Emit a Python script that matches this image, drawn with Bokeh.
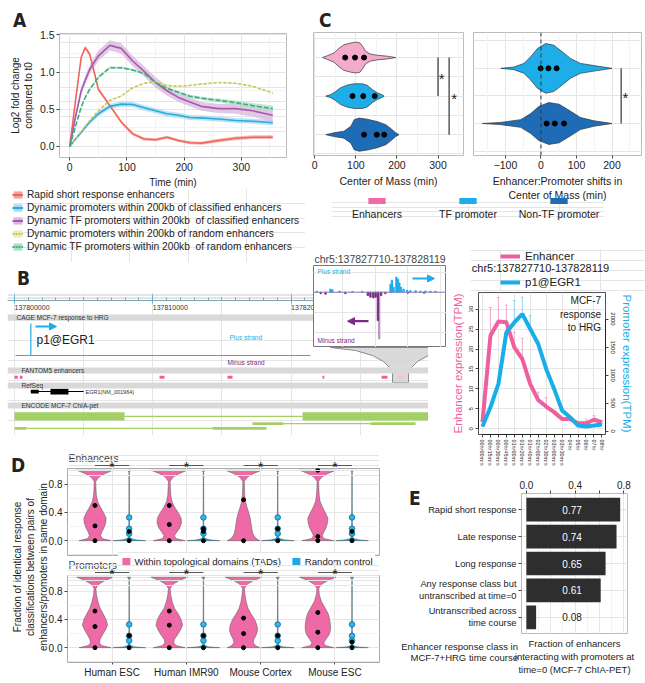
import numpy as np
from bokeh.plotting import figure
from bokeh.models import (Range1d, LinearAxis, FixedTicker, Legend, LegendItem, Div, Arrow,
                          NormalHead, Label, BoxAnnotation, Span, Grid, FactorRange)
from bokeh.embed import file_html
from bokeh.resources import INLINE
from bokeh.core.properties import value

FONT = "Liberation Sans"
TXT = "#222222"

# ===================== DATA =====================
# ---- Panel A: log2 fold change over time ----
a_time = [0, 10, 20, 27, 35, 50, 70, 90, 110, 130, 150, 170, 190, 210, 230, 260, 290, 320, 355]
a_rapid = [0, 0.62, 1.2, 1.33, 1.24, 0.77, 0.55, 0.33, 0.17, 0.10, 0.09, 0.125, 0.08, 0.05, 0.045, 0.08, 0.11, 0.125, 0.125]
a_rapid_se = [0.01, 0.02, 0.025, 0.025, 0.025, 0.025, 0.02, 0.02, 0.02, 0.02, 0.02, 0.02, 0.02, 0.02, 0.02, 0.025, 0.025, 0.025, 0.025]
a_prom = [0, 0.1, 0.19, 0.26, 0.33, 0.44, 0.54, 0.57, 0.565, 0.52, 0.48, 0.44, 0.42, 0.39, 0.385, 0.37, 0.35, 0.34, 0.32]
a_prom_se = [0.01, 0.02, 0.025, 0.03, 0.03, 0.035, 0.035, 0.035, 0.035, 0.035, 0.035, 0.035, 0.035, 0.035, 0.035, 0.035, 0.035, 0.035, 0.035]
a_tf = [0, 0.4, 0.75, 0.89, 1.04, 1.22, 1.36, 1.32, 1.15, 1.01, 0.86, 0.75, 0.66, 0.6, 0.54, 0.51, 0.51, 0.48, 0.42]
a_tf_se = [0.01, 0.04, 0.05, 0.06, 0.06, 0.07, 0.07, 0.07, 0.07, 0.07, 0.07, 0.065, 0.06, 0.06, 0.06, 0.06, 0.07, 0.08, 0.09]
a_rnd_prom = [0, 0.1, 0.2, 0.27, 0.35, 0.48, 0.62, 0.68, 0.79, 0.85, 0.87, 0.82, 0.81, 0.82, 0.84, 0.86, 0.85, 0.81, 0.72]
a_rnd_prom_se = [0.005, 0.008, 0.01, 0.01, 0.01, 0.01, 0.01, 0.01, 0.01, 0.01, 0.01, 0.01, 0.01, 0.01, 0.01, 0.01, 0.01, 0.01, 0.01]
a_rnd_tf = [0, 0.27, 0.53, 0.66, 0.77, 0.93, 1.06, 1.06, 1.03, 0.98, 0.86, 0.78, 0.73, 0.675, 0.65, 0.62, 0.59, 0.55, 0.51]
a_rnd_tf_se = [0.005, 0.01, 0.015, 0.015, 0.015, 0.015, 0.015, 0.015, 0.015, 0.015, 0.015, 0.02, 0.02, 0.02, 0.02, 0.025, 0.03, 0.035, 0.04]
a_labels = ["Rapid short response enhancers",
            "Dynamic promoters within 200kb of classified enhancers",
            "Dynamic TF promoters within 200kb  of classified enhancers",
            "Dynamic promoters within 200kb of random enhancers",
            "Dynamic TF promoters within 200kb  of random enhancers"]

# ---- Panel C: centre of mass violins ----
c_groups = ["Enhancers", "TF promoter", "Non-TF promoter"]
c_enh_x = [19, 31, 47, 59, 71, 88, 100, 110, 116, 124, 136, 152, 177, 197]
c_enh_w = [0, .05, .12, .24, .33, .38, .40, .38, .30, .16, .09, .06, .035, 0]
c_tf_x = [27, 39, 51, 63, 80, 96, 116, 128, 140, 152, 165, 169]
c_tf_w = [0, .04, .12, .22, .29, .32, .32, .28, .17, .09, .03, 0]
c_ntf_x = [27, 47, 71, 88, 96, 108, 128, 152, 173, 185, 197, 205]
c_ntf_w = [0, .05, .09, .22, .39, .43, .40, .34, .26, .16, .05, 0]
c_enh_q = [74, 98, 120]
c_tf_q = [92, 118, 146]
c_ntf_q = [120, 151, 169]
c2_tf_x = [-113, -76, -48, -29, -10, 13, 36, 60, 83, 111, 149, 200]
c2_tf_w = [0, .024, .09, .21, .36, .45, .42, .30, .18, .09, .05, 0]
c2_ntf_x = [-165, -113, -57, -29, -6, 22, 51, 79, 111, 149, 200]
c2_ntf_w = [0, .02, .07, .18, .31, .38, .35, .24, .11, .05, 0]
c2_tf_q = [-1, 21, 44]
c2_ntf_q = [16, 39, 65]

# ---- Panel B: genome tracks (chr5, hg19) ----
ruler_ticks = [137800000, 137810000, 137820000]
fantom_start = [137800000, 137800385, 137810485, 137815400, 137822270, 137826540, 137827710]
fantom_end = [137800240, 137800580, 137810846, 137815763, 137822400, 137826970, 137828119]
egr1_tx = [137801181, 137805004]
egr1_exon_start = [137801181, 137802600]
egr1_exon_end = [137801750, 137803900]
egr1_cage_peak = 137801181
chia_a_start = [137800000, 137817209, 137800000]
chia_a_end = [137807954, 137819451, 137800868]
chia_b_start = [137820824, 137825741, 137814317]
chia_b_end = [137829935, 137828995, 137818221]
# inset CAGE signal around the enhancer
ins_plus_pos = [137827720, 137827762, 137827768, 137827790, 137827830, 137827860, 137827947, 137827951,
                137827956, 137827965, 137827970, 137827974, 137827979, 137827987, 137827998, 137828008,
                137828024, 137828039, 137828054, 137828070, 137828085]
ins_plus_val = [1, 3, 2.5, 1.2, 0.8, 1, 8, 12, 5, 15, 13, 9, 5, 3, 2, 1.5, 1.5, 1, 1.2, 1, 1]
ins_minus_pos = [137827732, 137827747, 137827808, 137827877, 137827885, 137827894, 137827901,
                 137827908, 137827918, 137827931, 137828000, 137828050]
ins_minus_val = [1.5, 2, 1.5, 3.3, 5, 5.7, 5, 28.3, 3.3, 1.5, 1, 1]
ins_minus_rep_pos = [137827912]
ins_minus_rep_val = [46.7]

# ---- Panel B right: time course ----
b_times = ["00hr00min", "00hr15min", "00hr30min", "00hr45min", "01hr00min", "01hr20min", "01hr40min",
           "02hr00min", "02hr30min", "03hr00min", "03hr30min", "04hr", "05hr", "06hr", "07hr", "08hr"]
enh_tpm = [1.7, 23.3, 26.9, 26.7, 20.4, 17.5, 11.2, 7.2, 5.6, 4.2, 2.5, 2.5, 1.4, 1.4, 2.3, 1.7]
enh_err = [1.9, 30.4, 32.9, 31.0, 24.2, 22.7, 12.1, 9.2, 7.9, 4.6, 2.7, 2.6, 1.6, 2.4, 3.3, 1.9]
prom_tpm = [84, 427, 843, 1762, 1940, 2089, 1822, 1555, 1110, 754, 368, 249, 101, 84, 101, 119]
prom_err = [95, 460, 900, 1970, 2330, 2390, 2060, 1600, 1170, 813, 400, 260, 115, 100, 115, 135]

# ---- Panel D: violins ----
d_groups = ["Human ESC", "Human IMR90", "Mouse Cortex", "Mouse ESC"]
d_tad_y = [0.0, 0.03, 0.07, 0.12, 0.18, 0.25, 0.32, 0.4, 0.48, 0.56, 0.65, 0.75, 0.84, 0.9, 0.95, 1.0]
d_enh_tad_w = [
    [0.215, 0.10, 0.075, 0.09, 0.12, 0.145, 0.15, 0.115, 0.07, 0.035, 0.018, 0.013, 0.01, 0.05, 0.13, 0.245],
    [0.215, 0.09, 0.07, 0.10, 0.14, 0.165, 0.16, 0.12, 0.07, 0.035, 0.02, 0.015, 0.012, 0.05, 0.13, 0.245],
    [0.22, 0.17, 0.14, 0.12, 0.11, 0.10, 0.09, 0.07, 0.045, 0.025, 0.015, 0.012, 0.01, 0.05, 0.13, 0.245],
    [0.215, 0.08, 0.06, 0.08, 0.11, 0.13, 0.135, 0.10, 0.06, 0.03, 0.018, 0.013, 0.01, 0.05, 0.13, 0.245]]
d_prom_tad_w = [
    [0.215, 0.09, 0.06, 0.07, 0.10, 0.14, 0.17, 0.15, 0.11, 0.07, 0.04, 0.02, 0.012, 0.05, 0.13, 0.245],
    [0.215, 0.09, 0.06, 0.07, 0.11, 0.15, 0.18, 0.16, 0.12, 0.07, 0.04, 0.02, 0.012, 0.05, 0.13, 0.245],
    [0.22, 0.16, 0.13, 0.14, 0.17, 0.19, 0.18, 0.15, 0.10, 0.06, 0.035, 0.02, 0.012, 0.05, 0.13, 0.245],
    [0.215, 0.10, 0.08, 0.11, 0.15, 0.17, 0.17, 0.16, 0.14, 0.10, 0.05, 0.02, 0.012, 0.05, 0.13, 0.245]]
d_rnd_y = [0.0, 0.012, 0.03, 0.06, 0.09, 0.1, 0.11, 0.15, 0.17, 0.19, 0.3, 0.33, 0.36, 0.6, 0.97, 1.0]
d_enh_rnd_w = [0.22, 0.09, 0.025, 0.006, 0.006, 0.012, 0.006, 0.006, 0.012, 0.005, 0.004, 0.01, 0.004, 0.003, 0.003, 0.022]
d_prom_rnd_w = [0.22, 0.07, 0.02, 0.006, 0.006, 0.012, 0.006, 0.006, 0.014, 0.005, 0.004, 0.01, 0.004, 0.003, 0.003, 0.022]
d_enh_tad_q = [[0, 0.21, 0.5], [0, 0.23, 0.5], [0, 0.58], [0, 0.06, 1.0]]
d_enh_rnd_q = [[0, 0.13], [0, 0.13, 0.17], [0, 0.17], [0, 0.13]]
d_prom_tad_q = [[0, 0.3, 0.52], [0, 0.32, 0.52], [0, 0.2, 0.42], [0, 0.22, 0.5]]
d_prom_rnd_q = [[0, 0.17], [0, 0.17], [0, 0.17], [0, 0.08]]
d_rnd_points = [0.1, 0.17, 0.33]

# ---- Panel E ----
e_classes = ["Rapid short response", "Late response", "Long response",
             "Any response class but\nuntranscribed at time=0", "Untranscribed across\ntime course"]
e_values = [0.77, 0.74, 0.65, 0.61, 0.08]

# ===================== COLOURS =====================
PINK = "#EE6AA7"
LBLUE = "#1DAEEA"
DBLUE = "#1D6CB5"
PURPLE = "#7B2A85"
A_COL = ["#F0665A", "#2AA8E0", "#A55AAE", "#C8C45A", "#3BB07A"]
A_BAND = ["#F5A29B", "#A6D9F1", "#D9B6DE", "#ECECB8", "#AEDFC6"]

# ===================== HELPERS =====================
def mkfig(fx, fy, fw, fh, mbl, mbr, mbt, mbb, xr, yr, title=None, bg="white"):
    p = figure(frame_width=fw, frame_height=fh, x_range=xr, y_range=yr,
               min_border_left=mbl, min_border_right=mbr, min_border_top=mbt,
               min_border_bottom=mbb, x_axis_location=None, y_axis_location=None,
               output_backend="svg", toolbar_location=None, title=title)
    p.border_fill_color = None
    p.background_fill_color = bg
    p.outline_line_color = None
    p.styles = {"position": "absolute", "left": f"{fx - mbl}px", "top": f"{fy - mbt}px"}
    return p


def add_axis(p, place, ticks, overrides=None, label=None, size="10px", label_size="10px",
             y_range_name=None, bounds=None, orient=None, line=None, tick_out=3, color=TXT,
             label_color=None, minor=None):
    ax = LinearAxis(ticker=FixedTicker(ticks=ticks, minor_ticks=minor or []))
    if y_range_name:
        ax.y_range_name = y_range_name
    if overrides:
        ax.major_label_overrides = overrides
    if label is not None:
        ax.axis_label = label
    ax.major_label_text_font = FONT
    ax.major_label_text_font_size = size
    ax.major_label_text_color = color
    ax.axis_label_text_font = FONT
    ax.axis_label_text_font_size = label_size
    ax.axis_label_text_font_style = "normal"
    ax.axis_label_text_color = label_color or TXT
    ax.axis_line_color = line
    ax.major_tick_line_color = "#444444"
    ax.major_tick_out = tick_out
    ax.major_tick_in = 0
    ax.minor_tick_line_color = None
    ax.major_label_standoff = 2
    ax.axis_label_standoff = 3
    if bounds:
        ax.bounds = bounds
    if orient is not None:
        ax.major_label_orientation = orient
    p.add_layout(ax, place)
    return ax


def add_grid(p, dim, ticks, minor=None, color="#E6E6E6", minor_color="#F3F3F3"):
    g = Grid(dimension=dim, ticker=FixedTicker(ticks=ticks, minor_ticks=minor or []))
    g.grid_line_color = color
    if minor:
        g.minor_grid_line_color = minor_color
    p.add_layout(g)


def add_label(p, x, y, text, size="10px", color=TXT, align="left", baseline="middle", angle=0):
    p.add_layout(Label(x=x, y=y, text=text, text_font=FONT, text_font_size=size, text_color=color,
                       text_align=align, text_baseline=baseline, angle=angle))


def style_legend(lg, size="10.2px"):
    lg.label_text_font = FONT
    lg.label_text_font_size = size
    lg.label_text_color = TXT
    lg.background_fill_alpha = 0
    lg.border_line_color = None
    lg.padding = 0
    lg.margin = 0
    lg.spacing = 1
    lg.label_standoff = 4
    lg.glyph_width = 11
    lg.glyph_height = 9
    lg.label_height = 12
    lg.inactive_fill_alpha = 0


def mkdiv(html, x, y, w, h, size="10px", bold=False, align="left", family=None, extra=None):
    st = {"position": "absolute", "left": f"{x}px", "top": f"{y}px",
          "font-family": family or FONT, "font-size": size, "color": TXT,
          "text-align": align, "line-height": "1.15", "font-weight": "bold" if bold else "normal"}
    if extra:
        st.update(extra)
    return Div(text=html, width=w, height=h, styles=st)


def violin_patch(pos, center, half, vertical=True):
    pos = list(pos)
    half = list(half)
    up = [center + h for h in half]
    lo = [center - h for h in half[::-1]]
    along = pos + pos[::-1]
    across = up + lo
    return (across, along) if vertical else (along, across)


roots = []

# ===================== PANEL A =====================
pA = mkfig(59, 33, 227, 124, 55, 8, 5, 40, Range1d(-18, 379), Range1d(-0.148, 1.52))
pA.outline_line_color = "#BBBBBB"
add_grid(pA, 0, [0, 100, 200, 300], minor=[50, 150, 250, 350])
add_grid(pA, 1, [0, 0.5, 1.0, 1.5], minor=[0.25, 0.75, 1.25])
series = [(a_rapid, a_rapid_se, None), (a_prom, a_prom_se, None), (a_tf, a_tf_se, None),
          (a_rnd_prom, a_rnd_prom_se, "3 2"), (a_rnd_tf, a_rnd_tf_se, "5 2")]
bands = []
for i, (vals, se, dash) in enumerate(series):
    lo = [v - s for v, s in zip(vals, se)]
    hi = [v + s for v, s in zip(vals, se)]
    bands.append((lo, hi))
    pA.varea(x=a_time, y1=lo, y2=hi, fill_color=A_BAND[i], fill_alpha=0.75)
for i, (vals, se, dash) in enumerate(series):
    kw = {"line_dash": dash} if dash else {}
    pA.line(x=a_time, y=vals, line_color=A_COL[i], line_width=1.6, **kw)
add_axis(pA, "below", [0, 100, 200, 300], label="Time (min)", size="10.5px")
add_axis(pA, "left", [0, 0.5, 1.0, 1.5], overrides={0: "0.0", 0.5: "0.5", 1.0: "1.0", 1.5: "1.5"},
         label="Log2 fold change\ncompared to t0", size="10.5px")
roots.append(pA)

# legend of A (legend proxies carry the same series but are hidden)
pAl = mkfig(12, 188, 293, 74, 0, 0, 0, 0, Range1d(0, 1), Range1d(0, 1), bg=None)
items = []
for i, (vals, se, dash) in enumerate(series):
    r1 = pAl.varea(x=a_time, y1=bands[i][0], y2=bands[i][1], fill_color=A_BAND[i], fill_alpha=1.0, visible=False)
    kw = {"line_dash": "2 1"} if dash else {}
    r2 = pAl.line(x=a_time, y=vals, line_color=A_COL[i], line_width=2, visible=False, **kw)
    items.append(LegendItem(label=a_labels[i], renderers=[r1, r2]))
lgA = Legend(items=items, location="top_left")
style_legend(lgA)
pAl.add_layout(lgA)
roots.append(pAl)

# ===================== PANEL C =====================
pC1 = mkfig(313, 32, 150, 123, 5, 5, 4, 40, Range1d(-3, 362), Range1d(0.46, 3.65))
pC1.outline_line_color = "#BBBBBB"
add_grid(pC1, 0, [0, 100, 200, 300], minor=[50, 150, 250, 350])
add_grid(pC1, 1, [1, 2, 3])
c1_specs = [(c_enh_x, c_enh_w, 3, "#F4AACB", c_enh_q), (c_tf_x, c_tf_w, 2, LBLUE, c_tf_q),
            (c_ntf_x, c_ntf_w, 1, DBLUE, c_ntf_q)]
for xs, ws, cy, col, q in c1_specs:
    px_, py_ = violin_patch(xs, cy, ws, vertical=False)
    pC1.patch(x=px_, y=py_, fill_color=col, line_color="#333333", line_width=0.7)
    pC1.scatter(x=q, y=[cy] * len(q), size=5, color="black")
pC1.segment(x0=[300, 327], y0=[3, 3], x1=[300, 327], y1=[2, 1], line_color="#333333", line_width=1.2)
pC1.text(x=[309, 339], y=[2.45, 1.95], text=["*", "*"], text_font=value(FONT), text_font_size="15px",
         text_align="center", text_baseline="middle", text_color=TXT)
add_axis(pC1, "below", [0, 100, 200, 300], label="Center of Mass (min)", size="10.5px", label_size="10.5px")
roots.append(pC1)

pC2 = mkfig(473, 32, 168, 123, 5, 4, 4, 55, Range1d(-190, 283), Range1d(0.42, 2.65))
pC2.outline_line_color = "#BBBBBB"
add_grid(pC2, 0, [-100, 0, 100, 200], minor=[-150, -50, 50, 150, 250])
add_grid(pC2, 1, [1, 2])
pC2.add_layout(Span(location=0, dimension="height", line_color="#333333", line_dash="4 3", line_width=1))
c2_specs = [(c2_tf_x, c2_tf_w, 2, LBLUE, c2_tf_q), (c2_ntf_x, c2_ntf_w, 1, DBLUE, c2_ntf_q)]
for xs, ws, cy, col, q in c2_specs:
    px_, py_ = violin_patch(xs, cy, ws, vertical=False)
    pC2.patch(x=px_, y=py_, fill_color=col, line_color="#333333", line_width=0.7)
    pC2.scatter(x=q, y=[cy] * len(q), size=5, color="black")
pC2.segment(x0=[225.7], y0=[2], x1=[225.7], y1=[1], line_color="#333333", line_width=1.2)
pC2.text(x=[238], y=[1.47], text=["*"], text_font=value(FONT), text_font_size="15px",
         text_align="center", text_baseline="middle", text_color=TXT)
add_axis(pC2, "below", [-100, 0, 100, 200], label="Enhancer:Promoter shifts in\nCenter of Mass (min)",
         size="10.5px", label_size="10.5px")
roots.append(pC2)

# legend of C
pCl = mkfig(331, 197, 273, 24, 0, 0, 0, 0, FactorRange(factors=c_groups), Range1d(0, 1), bg=None)
pCl.rect(x=c_groups, y=[0.85] * 3, width=0.19, height=6, height_units="screen",
         fill_color=[PINK, LBLUE, DBLUE], line_color=None)
pCl.text(x=c_groups, y=[0.33] * 3, text=c_groups, text_font=value(FONT), text_font_size="10.5px",
         text_align="center", text_baseline="middle", text_color=TXT)
roots.append(pCl)

# ===================== PANEL B (tracks) =====================
G0 = 137800000
PX_KB = 13.83


def gx(px):
    return G0 + (px - 14) / PX_KB * 1000.0


xr_gen = Range1d(gx(7), gx(428))
pT = mkfig(7, 301, 421, 134, 0, 0, 0, 0, xr_gen, Range1d(435, 301), bg=None)
pT.text(x=ruler_ticks, y=[306.5] * 3, text=[str(t) for t in ruler_ticks], text_font=value(FONT),
        text_font_size="7px", text_align="left", text_baseline="middle", text_color="#333333")
for top, bot, txt, tx in [(314, 320, "CAGE MCF-7 response to HRG", 16), (367, 373, "FANTOM5 enhancers", 21),
                          (382, 388, "RefSeq", 21), (402, 408, "ENCODE MCF-7 ChIA-pet", 21)]:
    pT.add_layout(BoxAnnotation(top=top, bottom=bot, fill_color="#D9D9D9", fill_alpha=1, line_color=None))
    add_label(pT, gx(tx), (top + bot) / 2, txt, size="6.5px", color="#333333")
# CAGE track
pT.segment(x0=[gx(15)], x1=[gx(310)], y0=[355], y1=[355], line_color="#9C7FB5", line_width=1)
pT.segment(x0=[egr1_cage_peak], x1=[egr1_cage_peak], y0=[355], y1=[323], line_color=LBLUE, line_width=1.2)
pT.add_layout(Arrow(end=NormalHead(size=7, fill_color=LBLUE, line_color=LBLUE), x_start=gx(35), y_start=326,
                    x_end=gx(56), y_end=326, line_color=LBLUE, line_width=2.2))
add_label(pT, gx(36), 339, "p1@EGR1", size="12px", color=TXT)
add_label(pT, gx(229), 337, "Plus strand", size="6.5px", color=LBLUE)
add_label(pT, gx(227), 362, "Minus strand", size="6.5px", color=PURPLE)
# funnel from inset
fun_px = [330, 355, 372, 383, 389, 392, 392, 408, 408, 411, 417, 428, 440, 446]
fun_py = [347, 350, 355, 361, 367, 372, 382, 382, 372, 367, 361, 355, 350, 347]
pT.patch(x=[gx(v) for v in fun_px], y=fun_py, fill_color="#D4D4D4", fill_alpha=0.85,
         line_color="#8A8A8A", line_width=1)
# enhancers
enh_cols = ["#EE5FA0"] * (len(fantom_start) - 1) + ["#F6C3D9"]
pT.quad(left=fantom_start, right=fantom_end, top=375.3, bottom=378.3, fill_color=enh_cols, line_color=None)
# gene
pT.segment(x0=[egr1_tx[0]], x1=[egr1_tx[1]], y0=[391], y1=[391], line_color="black", line_width=1)
pT.quad(left=egr1_exon_start, right=egr1_exon_end, top=[389.3, 388.2], bottom=[393.0, 394.0],
        fill_color="black", line_color=None)
add_label(pT, gx(85), 391, "EGR1(NM_001964)", size="5.5px", color="#333333")
# ChIA-PET
row_top = [411.7, 421.8, 426.5]
row_bot = [420.0, 424.6, 429.3]
row_mid = [(a + b) / 2 for a, b in zip(row_top, row_bot)]
GREEN = "#A2D064"
pT.segment(x0=chia_a_end, x1=chia_b_start, y0=row_mid, y1=row_mid, line_color=GREEN, line_width=1.3)
pT.quad(left=chia_a_start, right=chia_a_end, top=row_top, bottom=row_bot, fill_color=GREEN, line_color=None)
pT.quad(left=chia_b_start, right=chia_b_end, top=row_top, bottom=row_bot, fill_color=GREEN, line_color=None)
roots.append(pT)

# ruler (axis line + ticks; labels drawn in the track figure)
pR = mkfig(7, 292, 421, 8, 0, 0, 0, 5, xr_gen, Range1d(0, 1), bg=None)
rax = LinearAxis(ticker=FixedTicker(ticks=ruler_ticks,
                                    minor_ticks=list(range(137800000, 137830001, 1000))))
rax.major_label_overrides = {t: "" for t in ruler_ticks}
rax.axis_line_color = "#7FA3B3"
rax.major_tick_line_color = "#4FB8E0"
rax.major_tick_in = 6
rax.major_tick_out = 3
rax.minor_tick_line_color = "#7FA3B3"
rax.minor_tick_in = 3
rax.minor_tick_out = 0
rax.major_label_text_font_size = "1px"
rax.major_label_standoff = 0
pR.add_layout(rax, "below")
roots.append(pR)

# inset
pI = mkfig(313, 265, 133, 82, 0, 0, 16, 0, Range1d(137827710, 137828119), Range1d(-55.3, 26.7),
           title="chr5:137827710-137828119")
pI.title.text_font = FONT
pI.title.text_font_size = "10.5px"
pI.title.text_font_style = "normal"
pI.title.align = "center"
pI.title.standoff = 2
pI.outline_line_color = "#777777"
pI.outline_line_width = 1
pI.vbar(x=ins_minus_rep_pos, width=4, top=0, bottom=[-v for v in ins_minus_rep_val], color="#B995C4")
pI.vbar(x=ins_minus_pos, width=4, top=0, bottom=[-v for v in ins_minus_val], color=PURPLE)
pI.vbar(x=ins_plus_pos, width=4, top=ins_plus_val, bottom=0, color=LBLUE)
pI.add_layout(Span(location=0, dimension="width", line_color="#8E7DB8", line_width=1))


def gi(px):
    return 137827710 + (px - 313) / 133.0 * 409


pI.add_layout(Arrow(end=NormalHead(size=7, fill_color=LBLUE, line_color=LBLUE), x_start=gi(412), y_start=13.7,
                    x_end=gi(434), y_end=13.7, line_color=LBLUE, line_width=2.2))
pI.add_layout(Arrow(end=NormalHead(size=7, fill_color=PURPLE, line_color=PURPLE), x_start=gi(368), y_start=-29,
                    x_end=gi(347), y_end=-29, line_color=PURPLE, line_width=2.2))
add_label(pI, gi(317), 20.7, "Plus strand", size="6.5px", color=LBLUE)
add_label(pI, gi(317), -48.3, "Minus strand", size="6.5px", color=PURPLE)
roots.append(pI)

# ===================== PANEL B right =====================
xi = list(range(len(b_times)))
pB = mkfig(478, 292, 127, 142, 30, 40, 2, 28, Range1d(-0.5, 15.45), Range1d(-1.4, 34.15))
pB.extra_y_ranges = {"prom": Range1d(-59, 2473)}
pB.outline_line_color = "#222222"
pB.outline_line_width = 0.8
BPINK = "#EE5FA0"
BBLUE = "#1AAEE8"
pB.segment(x0=xi, x1=xi, y0=enh_tpm, y1=enh_err, line_color="#F3A6CA", line_width=1)
pB.segment(x0=[i - 0.18 for i in xi], x1=[i + 0.18 for i in xi], y0=enh_err, y1=enh_err,
           line_color="#F3A6CA", line_width=1)
pB.segment(x0=xi, x1=xi, y0=prom_tpm, y1=prom_err, line_color="#8ED4F2", line_width=1, y_range_name="prom")
pB.segment(x0=[i - 0.18 for i in xi], x1=[i + 0.18 for i in xi], y0=prom_err, y1=prom_err,
           line_color="#8ED4F2", line_width=1, y_range_name="prom")
pB.line(x=xi, y=enh_tpm, line_color=BPINK, line_width=4)
pB.line(x=xi, y=prom_tpm, line_color=BBLUE, line_width=4, y_range_name="prom")
add_axis(pB, "left", [0, 5, 10, 15, 20, 25, 30], label="Enhancer expression(TPM)", size="6px",
         label_size="11.5px", bounds=(0, 30), orient="vertical", line="#222222", label_color=BPINK)
add_axis(pB, "right", [0, 500, 1000, 1500, 2000], label="Promoter expression(TPM)", size="6px",
         label_size="11.5px", bounds=(0, 2000), orient="vertical", line="#222222", label_color=BBLUE,
         y_range_name="prom")
add_axis(pB, "below", xi, overrides={i: t for i, t in enumerate(b_times)}, size="5.5px",
         bounds=(0, 15), orient="vertical", line="#222222")
pB.add_layout(Label(x=14.9, y=33.4, text="MCF-7\nresponse\nto HRG", text_font=FONT, text_font_size="10px",
                    text_color=TXT, text_align="right", text_baseline="top"))
roots.append(pB)

# legend of B right
pBl = mkfig(470, 249, 175, 42, 0, 0, 0, 0, Range1d(470, 645), Range1d(291, 249), bg=None)
rl1 = pBl.line(x=xi, y=enh_tpm, line_color=BPINK, line_width=4, visible=False)
rl2 = pBl.line(x=xi, y=prom_tpm, line_color=BBLUE, line_width=4, visible=False)
lgB = Legend(items=[LegendItem(label="Enhancer", renderers=[rl1]), LegendItem(label="p1@EGR1", renderers=[rl2])],
             location=(30, 3))
style_legend(lgB, size="11.5px")
lgB.glyph_width = 20
lgB.glyph_height = 12
lgB.spacing = 14
lgB.label_standoff = 5
pBl.add_layout(lgB)
add_label(pBl, 540, 267.5, "chr5:137827710-137828119", size="11px", align="center")
roots.append(pBl)


# ===================== PANEL D =====================
def d_panel(frame_top, title, tad_w, rnd_w, tad_q, rnd_q, bottom_axis):
    p = mkfig(67, frame_top, 312, 87, 31, 3, 24, 13 if bottom_axis else 2,
              Range1d(0.4, 4.6), Range1d(-0.21, 1.024), title=title)
    p.title.text_font = FONT
    p.title.text_font_size = "10.5px"
    p.title.text_font_style = "normal"
    p.title.align = "left"
    p.title.standoff = 9
    p.title.offset = 1
    p.outline_line_color = "#AAAAAA"
    add_grid(p, 0, [1, 2, 3, 4])
    add_grid(p, 1, [0, 0.4, 0.8], minor=[0.2, 0.6])
    xs_all, ys_all = [], []
    for g in range(4):
        a, b = violin_patch(d_tad_y, g + 1 - 0.23, tad_w[g], vertical=True)
        xs_all.append(a)
        ys_all.append(b)
    p.patches(xs=xs_all, ys=ys_all, fill_color=PINK, line_color="#555555", line_width=0.5)
    xs_all, ys_all = [], []
    for g in range(4):
        a, b = violin_patch(d_rnd_y, g + 1 + 0.23, rnd_w, vertical=True)
        xs_all.append(a)
        ys_all.append(b)
    p.patches(xs=xs_all, ys=ys_all, fill_color="#1CA9E2", line_color="#555555", line_width=0.5)
    for g in range(4):
        p.scatter(x=[g + 1 + 0.23] * len(d_rnd_points), y=d_rnd_points, size=5.5,
                  fill_color="#2DB7EE", line_color="#1878A8")
        p.scatter(x=[g + 1 - 0.23] * len(tad_q[g]), y=tad_q[g], size=4, color="black")
        p.scatter(x=[g + 1 + 0.23] * len(rnd_q[g]), y=rnd_q[g], size=4, color="black")
    add_axis(p, "left", [0, 0.4, 0.8], overrides={0: "0.0", 0.4: "0.4", 0.8: "0.8"}, size="10px")
    if bottom_axis:
        add_axis(p, "below", [1, 2, 3, 4], overrides={i + 1: d_groups[i] for i in range(4)}, size="10px",
                 tick_out=2)
    # significance strip straddling the top edge of the panel (transparent)
    s = mkfig(67, frame_top - 14, 312, 26, 0, 0, 0, 0, Range1d(0.4, 4.6),
              Range1d(frame_top + 12, frame_top - 14), bg=None)
    gl = [g + 1 - 0.23 for g in range(4)]
    gr = [g + 1 + 0.23 for g in range(4)]
    s.segment(x0=gl, x1=gr, y0=[frame_top - 3] * 4, y1=[frame_top - 3] * 4, line_color="#555555", line_width=1)
    s.text(x=[g + 1 for g in range(4)], y=[frame_top - 1.5] * 4, text=["*"] * 4, text_font=value(FONT),
           text_font_size="14px", text_align="center", text_baseline="middle", text_color=TXT)
    return p, s


pD1, sD1 = d_panel(468, "Enhancers", d_enh_tad_w, d_enh_rnd_w, d_enh_tad_q, d_enh_rnd_q, False)
pD2, sD2 = d_panel(575, "Promoters", d_prom_tad_w, d_prom_rnd_w, d_prom_tad_q, d_prom_rnd_q, True)
roots += [pD1, pD2]

pDl = mkfig(118, 552, 257, 17, 0, 0, 0, 0, Range1d(0, 1), Range1d(0, 1), bg=None)
xs_p, ys_p = violin_patch(d_tad_y, 1 - 0.23, d_enh_tad_w[0], vertical=True)
xs_b, ys_b = violin_patch(d_rnd_y, 1 + 0.23, d_enh_rnd_w, vertical=True)
rq1 = pDl.patch(x=xs_p, y=ys_p, fill_color=PINK, line_color=None, visible=False)
rq2 = pDl.patch(x=xs_b, y=ys_b, fill_color="#1CA9E2", line_color=None, visible=False)
lgD = Legend(items=[LegendItem(label="Within topological domains (TADs)", renderers=[rq1]),
                    LegendItem(label="Random control", renderers=[rq2])],
             location="center", orientation="horizontal")
style_legend(lgD, size="9.6px")
lgD.background_fill_color = "white"
lgD.background_fill_alpha = 1
lgD.border_line_color = "#9A9A9A"
lgD.padding = 3
lgD.spacing = 10
lgD.glyph_width = 10
lgD.label_height = 10
pDl.add_layout(lgD)
roots += [pDl, sD1, sD2]

# ===================== PANEL E =====================
e_y = [5, 4, 3, 2, 1]
pE = mkfig(521, 493, 106, 140, 122, 8, 18, 38, Range1d(-0.04, 0.83), Range1d(0.4, 5.6))
pE.outline_line_color = "#BBBBBB"
add_grid(pE, 0, [0, 0.2, 0.4, 0.6, 0.8], minor=[0.1, 0.3, 0.5, 0.7])
add_grid(pE, 1, e_y)
pE.hbar(y=e_y, left=0, right=e_values, height=0.88, fill_color="#2E2E2E", line_color=None)
pE.text(x=[0.375] * 5, y=e_y, text=[f"{v:.2f}" for v in e_values],
        text_color=["white" if v > 0.3 else TXT for v in e_values], text_font=value(FONT),
        text_font_size="10px", text_align="center", text_baseline="middle")
add_axis(pE, "above", [0, 0.2, 0.4, 0.6, 0.8], overrides={0: "0.0", 0.2: "", 0.4: "0.4", 0.6: "", 0.8: "0.8"},
         size="10px")
add_axis(pE, "left", e_y, overrides={y: c for y, c in zip(e_y, e_classes)}, size="9.3px")
axb = add_axis(pE, "below", [], label="Fraction of enhancers\ninteracting with promoters at\ntime=0 (MCF-7 ChIA-PET)",
               label_size="9.5px", tick_out=0)
axb.axis_label_standoff = 4
roots.append(pE)

# ===================== DIVS (letters / free labels) =====================
LET = "'Liberation Sans Narrow','DejaVu Sans Condensed','Liberation Sans'"
for t, x, y in [("A", 8, 5), ("C", 314, 5), ("B", 12, 263), ("D", 6, 450), ("E", 404, 483)]:
    roots.append(mkdiv(t, x, y, 20, 24, size="19px", bold=True, family=LET))
roots.append(mkdiv("Fraction of identical response<br>classifications between pairs of<br>enhancers/promoters in same domain",
                   27 - 110, 562 - 21, 220, 42, size="10px", align="center",
                   extra={"transform": "rotate(-90deg)", "line-height": "13px"}))
roots.append(mkdiv("Enhancer response class in<br>MCF-7+HRG time course", 380, 637, 133, 26, size="9.5px",
                   align="right", extra={"line-height": "10.5px"}))

open("out.html", "w").write(file_html(roots, INLINE))
